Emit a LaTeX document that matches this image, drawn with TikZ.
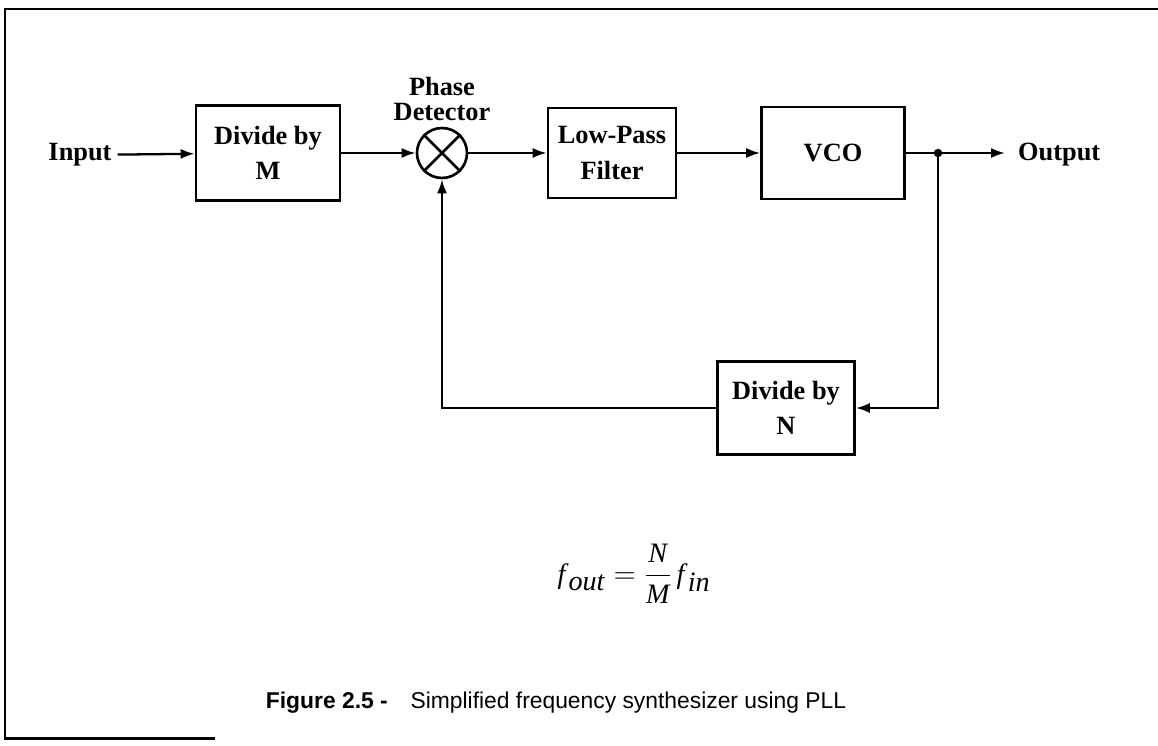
\documentclass[tikz,border=0pt]{standalone}
\usepackage{fontspec}
\setmainfont{Liberation Serif}
\newfontfamily\capfont{Liberation Sans}
\usetikzlibrary{arrows.meta}

\tikzset{
  blk/.style={draw,line width=1.5pt,align=center,inner sep=0pt,
    font=\bfseries\fontsize{15}{20}\selectfont},
  lbl/.style={font=\bfseries\fontsize{15}{18}\selectfont},
  wire/.style={line width=1.3pt},
  sig/.style={wire,-{Latex[length=2.8mm,width=2mm]}},
}

\begin{document}
\begin{tikzpicture}[x=0.02cm,y=-0.02cm]
\useasboundingbox (0,0) rectangle (1158,746);

% ---------- frame ----------
\draw[line width=1.7pt] (1158,9) -- (5,9) -- (5,738) -- (215,738);

% ---------- forward path ----------
\node[lbl] (input) at (80,155) {Input};
\node[blk,minimum width=2.88cm,minimum height=1.9cm] (divm) at (268,153) {Divide by\\M};
\node[draw,circle,line width=1.5pt,minimum size=1cm,inner sep=0pt] (pd) at (442,153) {};
\draw[line width=1.5pt] (pd.north west) -- (pd.south east);
\draw[line width=1.5pt] (pd.north east) -- (pd.south west);
\node[lbl,align=center,anchor=south,font=\bfseries\fontsize{15}{14}\selectfont]
  (pdlabel) at (442,127) {Phase\\Detector};
\node[blk,minimum width=2.56cm,minimum height=1.8cm] (lpf) at (612,153) {Low-Pass\\Filter};
\node[blk,minimum width=2.86cm,minimum height=1.84cm] (vco) at (833,153) {VCO};
\coordinate (split) at (938,153);
\coordinate (outend) at (1005,153);
\node[lbl,anchor=west] (output) at (1012,155) {Output};

\draw[sig] (input) -- (divm);
\draw[sig] (divm) -- (pd);
\draw[sig] (pd) -- (lpf);
\draw[sig] (lpf) -- (vco);
\draw[wire] (vco) -- (split);
\draw[sig] (split) -- (outend);
\fill (split) circle (2.4pt);

% ---------- feedback ----------
\node[blk,minimum width=2.74cm,minimum height=1.86cm] (divn) at (786,408) {Divide by\\N};
\draw[sig] (split) |- (divn);
\draw[sig] (divn) -| (pd);

% ---------- relation and caption ----------
\node[font=\fontsize{16}{19}\selectfont] (rel) at (634,574)
  {$\displaystyle\textit{f}_{\,\textit{out}}=\frac{\textit{N}}{\textit{M}}\,\textit{f}_{\,\textit{in}}$};
\node[font=\capfont\fontsize{13}{16}\selectfont] (cap) at (556,703)
  {\textbf{Figure 2.5 -}\quad Simplified frequency synthesizer using PLL};
\end{tikzpicture}
\end{document}
